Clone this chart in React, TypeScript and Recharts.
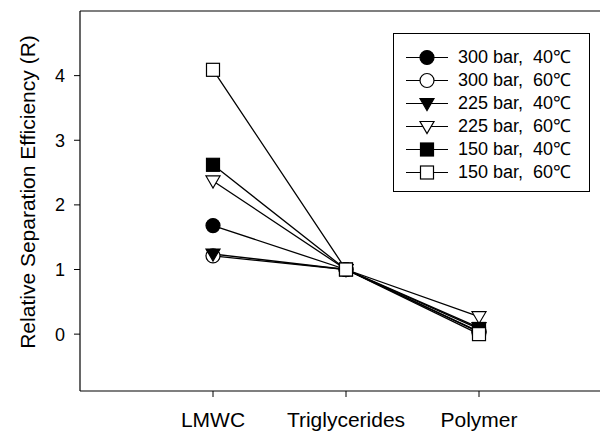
import React from 'react';
import { LineChart, Line, XAxis, YAxis, ReferenceLine, Legend } from 'recharts';

const categories = ['LMWC', 'Triglycerides', 'Polymer'];
const p300t40 = [1.68, 1.0, 0.04];
const p300t60 = [1.21, 1.0, 0.03];
const p225t40 = [1.24, 1.0, 0.1];
const p225t60 = [2.37, 1.0, 0.27];
const p150t40 = [2.62, 1.0, 0.08];
const p150t60 = [4.09, 1.0, 0.0];
const yTicks = [0, 1, 2, 3, 4];

const seriesInfo = [
  { key: 's1', label: '300 bar,  40\u2103', values: p300t40, shape: 'circle', fill: '#000' },
  { key: 's2', label: '300 bar,  60\u2103', values: p300t60, shape: 'circle', fill: '#fff' },
  { key: 's3', label: '225 bar,  40\u2103', values: p225t40, shape: 'triangle', fill: '#000' },
  { key: 's4', label: '225 bar,  60\u2103', values: p225t60, shape: 'triangle', fill: '#fff' },
  { key: 's5', label: '150 bar,  40\u2103', values: p150t40, shape: 'square', fill: '#000' },
  { key: 's6', label: '150 bar,  60\u2103', values: p150t60, shape: 'square', fill: '#fff' },
];

const data = categories.map((c, i) => {
  const row: any = { name: c };
  seriesInfo.forEach((s) => { row[s.key] = s.values[i]; });
  return row;
});

const FONT = '"Liberation Sans", Arial, Helvetica, sans-serif';

function Marker({ cx, cy, shape, fill }: any) {
  if (cx == null || cy == null) return null;
  if (shape === 'circle') {
    return <circle cx={cx} cy={cy} r={7} fill={fill} stroke="#000" strokeWidth={1.2} />;
  }
  if (shape === 'square') {
    return <rect x={cx - 6.5} y={cy - 6.5} width={13} height={13} fill={fill} stroke="#000" strokeWidth={1.2} />;
  }
  const pts = `${cx - 7},${cy - 5} ${cx + 7},${cy - 5} ${cx},${cy + 7}`;
  return <polygon points={pts} fill={fill} stroke="#000" strokeWidth={1.2} strokeLinejoin="miter" />;
}

const renderLegend = () => (
  <div
    style={{
      width: 197,
      height: 159,
      border: '1px solid #000',
      boxSizing: 'border-box',
      background: '#fff',
      position: 'relative',
      fontFamily: FONT,
      fontSize: 18,
      color: '#000',
    }}
  >
    {seriesInfo.map((s, i) => (
      <div
        key={s.key}
        style={{
          position: 'absolute',
          left: 0,
          top: 23 + i * 23 - 11.5,
          height: 23,
          display: 'flex',
          alignItems: 'center',
          whiteSpace: 'pre',
        }}
      >
        <svg width={60} height={23} style={{ display: 'block' }}>
          <line x1={12} x2={54} y1={11.5} y2={11.5} stroke="#000" strokeWidth={1.2} />
          <Marker cx={33} cy={11.5} shape={s.shape} fill={s.fill} />
        </svg>
        <span style={{ marginLeft: 4, lineHeight: '23px' }}>{s.label}</span>
      </div>
    ))}
  </div>
);

const YLabel = () => (
  <text
    x={27}
    y={192}
    transform="rotate(-90 27 192)"
    textAnchor="middle"
    dominantBaseline="central"
    fontFamily={FONT}
    fontSize={21}
    fill="#000"
  >
    Relative Separation Efficiency (R)
  </text>
);

export default function App() {
  return (
    <div
      style={{
        position: 'fixed',
        left: 0,
        top: 0,
        width: 600,
        height: 431,
        overflow: 'hidden',
        background: '#fff',
      }}
    >
      <LineChart width={620} height={431} data={data} margin={{ top: 11, right: 8, left: 0, bottom: 0 }}>
        <XAxis
          dataKey="name"
          height={40}
          padding={{ left: 133, right: 133 }}
          axisLine={{ stroke: '#000', strokeWidth: 1.2 }}
          tickLine={{ stroke: '#000', strokeWidth: 1 }}
          tickSize={6}
          tick={{ fill: '#000', fontFamily: FONT, fontSize: 21 }}
          tickMargin={15}
          interval={0}
        />
        <YAxis
          type="number"
          domain={[-0.88, 5]}
          ticks={yTicks}
          allowDataOverflow
          width={80}
          axisLine={{ stroke: '#000', strokeWidth: 1.2 }}
          tickLine={{ stroke: '#000', strokeWidth: 1 }}
          tickSize={6}
          tickMargin={9}
          tick={{ fill: '#000', fontFamily: FONT, fontSize: 18 }}
          label={<YLabel />}
        />
        <ReferenceLine y={5} stroke="#000" strokeWidth={1.2} />
        <Legend
          layout="vertical"
          align="center"
          verticalAlign="middle"
          content={renderLegend}
          wrapperStyle={{ position: 'absolute', left: 393, top: 33, width: 197, height: 159 }}
        />
        {seriesInfo.map((s) => (
          <Line
            key={s.key}
            dataKey={s.key}
            name={s.label}
            stroke="#000"
            strokeWidth={1.3}
            isAnimationActive={false}
            dot={(props: any) => (
              <Marker key={`${s.key}-${props.index}`} cx={props.cx} cy={props.cy} shape={s.shape} fill={s.fill} />
            )}
            activeDot={false}
          />
        ))}
      </LineChart>
    </div>
  );
}
